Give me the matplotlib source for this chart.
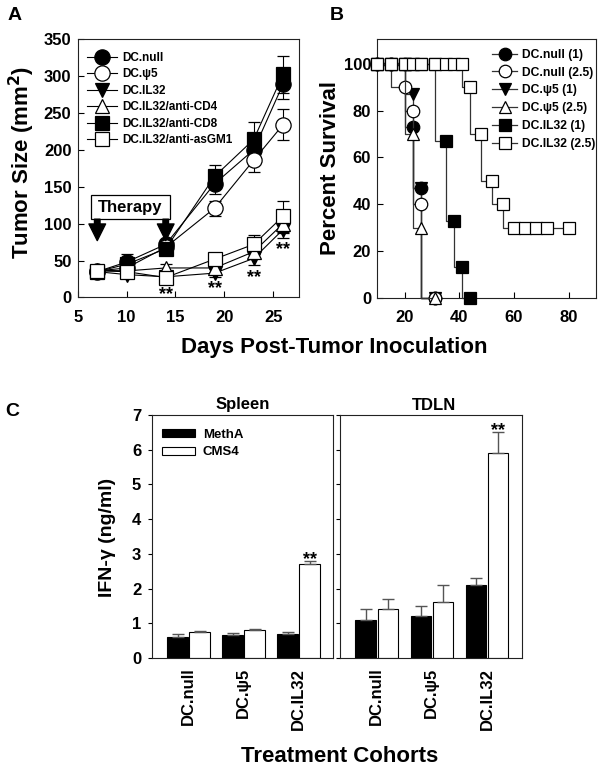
import matplotlib
matplotlib.use('Agg')
import numpy as np
import matplotlib.pyplot as plt
from matplotlib.patches import Rectangle, Patch

plt.rcParams['font.family'] = ['Liberation Sans', 'DejaVu Sans']
plt.rcParams['font.weight'] = 'bold'
plt.rcParams['axes.linewidth'] = 0.8

# ---------------- Panel A data ----------------
days_a = [7, 10, 14, 19, 23, 26]
labels_a = ['DC.null', 'DC.ψ5', 'DC.IL32', 'DC.IL32/anti-CD4', 'DC.IL32/anti-CD8', 'DC.IL32/anti-asGM1']
size_null = [35, 48, 72, 154, 200, 289]
err_null = [4, 11, 5, 14, 12, 20]
size_psi5 = [36, 40, 68, 121, 186, 234]
err_psi5 = [3, 5, 4, 10, 16, 21]
size_il32 = [35, 31, 28, 33, 53, 92]
err_il32 = [3, 5, 4, 5, 9, 11]
size_cd4 = [37, 36, 40, 40, 62, 100]
err_cd4 = [3, 4, 5, 6, 8, 12]
size_cd8 = [35, 45, 66, 164, 214, 302]
err_cd8 = [3, 6, 5, 16, 24, 25]
size_asgm1 = [36, 35, 27, 52, 72, 110]
err_asgm1 = [3, 5, 5, 6, 13, 21]
star_days_a = [14, 19, 23, 26]
star_y_a = [8, 16, 31, 69]

# ---------------- Panel B data ----------------
labels_b = ['DC.null (1)', 'DC.null (2.5)', 'DC.ψ5 (1)', 'DC.ψ5 (2.5)', 'DC.IL32 (1)', 'DC.IL32 (2.5)']
days_null1 = [10, 15, 20, 23, 26, 31]
surv_null1 = [100, 100, 100, 73, 47, 0]
days_null25 = [10, 15, 20, 23, 26, 31]
surv_null25 = [100, 100, 90, 80, 40, 0]
days_psi1 = [10, 15, 20, 23, 26, 31]
surv_psi1 = [100, 100, 100, 87, 47, 0]
days_psi25 = [10, 15, 20, 23, 26, 31]
surv_psi25 = [100, 100, 100, 70, 30, 0]
days_il1 = [10, 15, 20, 23, 26, 31, 35, 38, 41, 44]
surv_il1 = [100, 100, 100, 100, 100, 100, 67, 33, 13, 0]
days_il25 = [10, 15, 20, 23, 26, 31, 35, 38, 41, 44, 48, 52, 56, 60, 64, 68, 72, 80]
surv_il25 = [100, 100, 100, 100, 100, 100, 100, 100, 100, 90, 70, 50, 40, 30, 30, 30, 30, 30]

# ---------------- Panel C data ----------------
cohorts = ['DC.null', 'DC.ψ5', 'DC.IL32']
spleen_metha = [0.6, 0.65, 0.7]
spleen_metha_err = [0.08, 0.06, 0.05]
spleen_cms4 = [0.75, 0.8, 2.7]
spleen_cms4_err = [0.03, 0.04, 0.1]
tdln_metha = [1.1, 1.2, 2.1]
tdln_metha_err = [0.3, 0.3, 0.2]
tdln_cms4 = [1.4, 1.6, 5.9]
tdln_cms4_err = [0.3, 0.5, 0.6]

W, H = 602, 771
fig = plt.figure(figsize=(W / 100, H / 100), dpi=100)


def ax_px(l, t, r, b):
    return fig.add_axes([l / W, 1 - b / H, (r - l) / W, (b - t) / H])


def ftext(x, y, s, **kw):
    fig.text(x / W, 1 - y / H, s, **kw)


def style_spines(ax):
    for sp in ax.spines.values():
        sp.set_color('#222222')
        sp.set_linewidth(0.8)


# ================= Panel A =================
axA = ax_px(77.7, 39, 299.3, 297.5)
style_spines(axA)
series_a = [size_null, size_psi5, size_il32, size_cd4, size_cd8, size_asgm1]
errs_a = [err_null, err_psi5, err_il32, err_cd4, err_cd8, err_asgm1]
markers_a = ['o', 'o', 'v', '^', 's', 's']
fills_a = ['black', 'white', 'black', 'white', 'black', 'white']
msizes_a = [11, 11, 10, 10, 10, 10]
handles_a = []
for vals, errs, m, fc, ms, lab in zip(series_a, errs_a, markers_a, fills_a, msizes_a, labels_a):
    c = axA.errorbar(days_a, vals, yerr=errs, fmt='-', marker=m, color='black', mfc=fc, mec='black',
                     ms=ms, lw=0.8, elinewidth=0.8, capsize=4, capthick=0.8, label=lab, mew=0.9)
    handles_a.append(c[0])
axA.set_xlim(5, 27.66)
axA.set_ylim(0, 350)
axA.set_xticks([5, 10, 15, 20, 25])
axA.set_yticks(range(0, 351, 50))
axA.tick_params(direction='in', length=4, width=0.8, labelsize=12)
axA.tick_params(axis='x', pad=9)
axA.tick_params(axis='y', pad=4.5)
for lab in axA.get_xticklabels() + axA.get_yticklabels():
    lab.set_fontweight('bold')
axA.legend(handles=handles_a, labels=labels_a, loc='upper left', bbox_to_anchor=(0.042, 0.950),
           frameon=False, prop={'size': 8.5, 'weight': 'bold'}, handlelength=2.5, handletextpad=0.45,
           labelspacing=0.38, borderpad=0, borderaxespad=0)
# Therapy box and arrows
axA.add_patch(Rectangle((6.4, 106), 8.0, 33, facecolor='white', edgecolor='black', lw=0.9, zorder=4))
axA.text(10.4, 122.5, 'Therapy', ha='center', va='center', fontsize=12, fontweight='bold', zorder=5)
for xd in [7, 14]:
    axA.annotate('', xy=(xd, 77), xytext=(xd, 106),
                 arrowprops=dict(facecolor='black', edgecolor='black', width=4, headwidth=12,
                                 headlength=12, shrink=0), zorder=5)
for xd, yd in zip(star_days_a, star_y_a):
    axA.annotate('**', xy=(xd, yd), xytext=(0, -2), textcoords='offset points', ha='center',
                 va='center', fontsize=13, fontweight='bold', annotation_clip=False)

# ================= Panel B =================
axB = ax_px(377.3, 39, 596, 297.7)
style_spines(axB)
days_b = [days_null1, days_null25, days_psi1, days_psi25, days_il1, days_il25]
surv_b = [surv_null1, surv_null25, surv_psi1, surv_psi25, surv_il1, surv_il25]
markers_b = ['o', 'o', 'v', '^', 's', 's']
fills_b = ['black', 'white', 'black', 'white', 'black', 'white']
msizes_b = [9, 9, 9, 9, 8.5, 8.5]
zorders_b = [4, 4, 3, 4, 4, 4]
handles_b = []
for d, s, m, fc, ms, lab, zo in zip(days_b, surv_b, markers_b, fills_b, msizes_b, labels_b, zorders_b):
    ln, = axB.plot(d, s, drawstyle='steps-pre', color='#333333', lw=0.9, marker=m, mfc=fc,
                   mec='black', ms=ms, mew=0.9, clip_on=False, label=lab, zorder=zo)
    handles_b.append(ln)
axB.set_xlim(10, 90)
axB.set_ylim(0, 110.7)
axB.set_xticks([20, 40, 60, 80])
axB.set_yticks(range(0, 101, 20))
axB.tick_params(direction='in', length=4, width=0.8, labelsize=12)
axB.tick_params(axis='x', pad=9)
axB.tick_params(axis='y', pad=4.5)
for lab in axB.get_xticklabels() + axB.get_yticklabels():
    lab.set_fontweight('bold')
axB.legend(handles=handles_b, labels=labels_b, loc='upper left', bbox_to_anchor=(0.524, 0.962),
           frameon=False, prop={'size': 8.7, 'weight': 'bold'}, handlelength=2.1, handletextpad=0.4,
           labelspacing=0.48, borderpad=0, borderaxespad=0)

ftext(15, 16, 'A', fontsize=14, fontweight='bold', ha='center', va='center')
ftext(337, 16, 'B', fontsize=14, fontweight='bold', ha='center', va='center')
ftext(22, 163, 'Tumor Size (mm$^\\mathbf{2}$)', fontsize=16, fontweight='bold', rotation=90,
      ha='center', va='center')
ftext(331, 168, 'Percent Survival', fontsize=16, fontweight='bold', rotation=90, ha='center', va='center')
ftext(334, 348, 'Days Post-Tumor Inoculation', fontsize=16, fontweight='bold', ha='center', va='center')

# ================= Panel C =================
x = np.arange(len(cohorts))
off, bw = 0.2, 0.37
axS = ax_px(152.3, 415, 333.3, 658)
axT = ax_px(340.3, 415, 521.7, 658)
for ax, metha, metha_err, cms4, cms4_err in [
        (axS, spleen_metha, spleen_metha_err, spleen_cms4, spleen_cms4_err),
        (axT, tdln_metha, tdln_metha_err, tdln_cms4, tdln_cms4_err)]:
    style_spines(ax)
    ax.bar(x - off, metha, width=bw, color='black', edgecolor='black', lw=0.8, label='MethA')
    ax.bar(x + off, cms4, width=bw, color='white', edgecolor='black', lw=0.8, label='CMS4')
    ax.errorbar(x - off, metha, yerr=[np.zeros(len(x)), metha_err], fmt='none', ecolor='#555555',
                elinewidth=1, capsize=4, capthick=1)
    ax.errorbar(x + off, cms4, yerr=[np.zeros(len(x)), cms4_err], fmt='none', ecolor='#555555',
                elinewidth=1, capsize=4, capthick=1)
    ax.set_xlim(-0.66, 2.63)
    ax.set_ylim(0, 7)
    ax.set_yticks(range(0, 8))
    ax.set_xticks(x)
    ax.set_xticklabels(cohorts, rotation=90, fontsize=12, fontweight='bold')
    ax.tick_params(axis='x', length=0, pad=7)
    ax.tick_params(axis='y', direction='out', length=3, width=0.8, labelsize=12, pad=5)
    for lab in ax.get_yticklabels():
        lab.set_fontweight('bold')
    ax.annotate('**', xy=(x[2] + off, cms4[2] + cms4_err[2]), xytext=(0, 1), textcoords='offset points',
                ha='center', va='center', fontsize=13, fontweight='bold')
axT.tick_params(axis='y', labelleft=False)
axS.legend(handles=[Patch(facecolor='black', edgecolor='black', lw=0.8),
                    Patch(facecolor='white', edgecolor='black', lw=0.8)],
           labels=['MethA', 'CMS4'], loc='upper left', bbox_to_anchor=(0.054, 0.942), frameon=False,
           prop={'size': 9.5, 'weight': 'bold'}, handlelength=2.5, handleheight=0.55,
           handletextpad=0.6, labelspacing=0.4, borderpad=0, borderaxespad=0)

ftext(243, 405, 'Spleen', fontsize=12, fontweight='bold', ha='center', va='center')
ftext(434, 405, 'TDLN', fontsize=12, fontweight='bold', ha='center', va='center')
ftext(12, 412, 'C', fontsize=14, fontweight='bold', ha='center', va='center')
ftext(108, 537, 'IFN-γ (ng/ml)', fontsize=14, fontweight='bold', rotation=90, ha='center', va='center')
ftext(340, 757, 'Treatment Cohorts', fontsize=16, fontweight='bold', ha='center', va='center')

fig.savefig('out.png', dpi=100)
